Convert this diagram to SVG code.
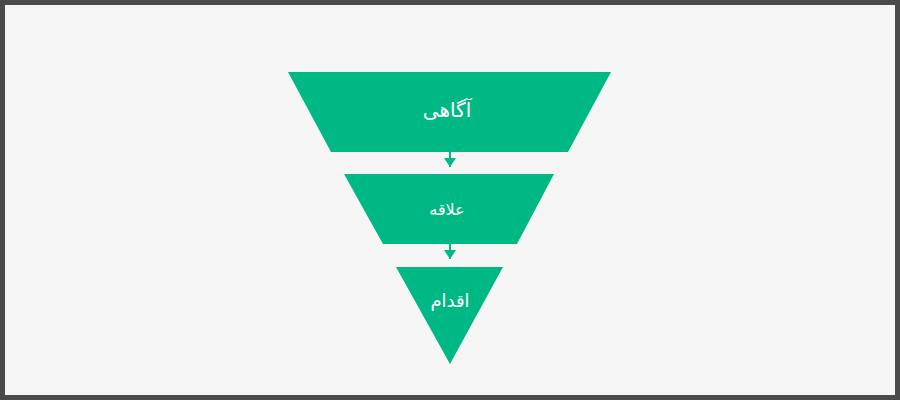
<svg xmlns="http://www.w3.org/2000/svg" width="900" height="400" viewBox="0 0 900 400">
<defs>
<style>
.stage{fill:#00b884;}
.lbl{fill:#ffffff;font-family:"DejaVu Sans","Noto Sans",sans-serif;text-anchor:middle;dominant-baseline:central;}
.conn{stroke:#00b884;stroke-width:2;fill:none;}
</style>
<marker id="ah" markerWidth="9" markerHeight="12" refX="9" refY="6" orient="auto" markerUnits="userSpaceOnUse">
<path d="M0,0 L9,6 L0,12 Z" fill="#00b884"/>
</marker>
</defs>
<rect x="0" y="0" width="900" height="400" fill="#4a4a4a"/>
<rect x="5" y="5" width="890" height="390" fill="#f5f5f5"/>
<g id="connectors">
<line class="conn" x1="450" y1="152" x2="450" y2="167" marker-end="url(#ah)"/>
<line class="conn" x1="450" y1="244" x2="450" y2="259" marker-end="url(#ah)"/>
</g>
<g id="node-awareness">
<polygon class="stage" points="288,72 611,72 568,152 331,152"/>
<text class="lbl" x="447" y="110" font-size="20" direction="rtl">آگاهی</text>
</g>
<g id="node-interest">
<polygon class="stage" points="344,174 554,174 517,244 383,244"/>
<text class="lbl" x="447" y="209" font-size="16" direction="rtl">علاقه</text>
</g>
<g id="node-action">
<polygon class="stage" points="396,267 503,267 450,364"/>
<text class="lbl" x="450" y="300" font-size="18" direction="rtl">اقدام</text>
</g>
</svg>
